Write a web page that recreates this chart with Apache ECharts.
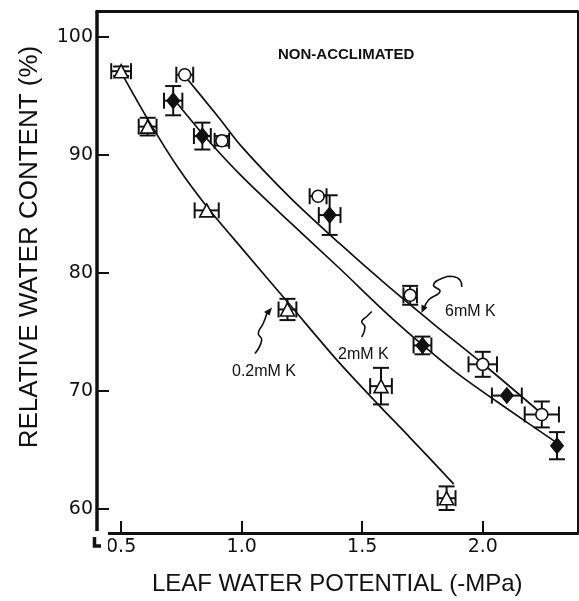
<!DOCTYPE html>
<html>
<head>
<meta charset="utf-8">
<script src="https://cdn.jsdelivr.net/npm/echarts@6/dist/echarts.min.js"></script>
<style>
  html, body { margin: 0; background: #fff; }
  #main { width: 579px; height: 601px; }
</style>
</head>
<body>
<div id="main"></div>
<script>
// tick labels
const xTicks = [0.5, 1.0, 1.5, 2.0];
const yTicks = [60, 70, 80, 90, 100];

// 0.2mM K (open triangles)
const lowX = [0.50, 0.61, 0.855, 1.19, 1.578, 1.85];
const lowY = [97.1, 92.4, 85.3, 76.9, 70.4, 60.9];
const lowDx = [0.041, 0.037, 0.05, 0.037, 0.045, 0.037];
const lowDy = [0.4, 0.75, 0, 0.9, 1.55, 1.0];

// 2mM K (filled diamonds)
const midX = [0.716, 0.837, 1.365, 1.75, 2.10, 2.308];
const midY = [94.6, 91.6, 84.9, 73.85, 69.6, 65.35];
const midDx = [0.038, 0.035, 0.045, 0.037, 0.062, 0];
const midDy = [1.24, 1.14, 1.68, 0.75, 0, 1.15];

// 6mM K (open circles)
const highX = [0.764, 0.918, 1.317, 1.699, 2.0, 2.245];
const highY = [96.8, 91.2, 86.5, 78.1, 72.25, 68.0];
const highDx = [0.035, 0.03, 0.035, 0.028, 0.059, 0.071];
const highDy = [0, 0.4, 0, 0.8, 1.06, 1.1];

// fitted curves
const lowFitX = [0.5, 0.62, 0.74, 0.86, 1.0, 1.2, 1.4, 1.55, 1.7, 1.88];
const lowFitY = [97.0, 92.7, 88.8, 85.5, 82.1, 77.3, 72.5, 69.2, 66.0, 62.1];
const midFitX = [0.72, 0.85, 1.0, 1.2, 1.4, 1.6, 1.75, 1.9, 2.1, 2.3];
const midFitY = [94.7, 91.5, 88.2, 84.3, 80.5, 76.6, 73.9, 71.4, 68.5, 65.7];
const highFitX = [0.76, 0.9, 1.0, 1.2, 1.4, 1.6, 1.8, 2.0, 2.26];
const highFitY = [96.8, 93.3, 90.7, 86.4, 82.6, 79.0, 75.6, 72.3, 67.8];

const ink = '#111';
const font = 'Liberation Sans';

function zip(a, b) { return a.map((v, i) => [v, b[i]]); }
function errData(x, y, dx, dy) { return x.map((v, i) => [v, y[i], dx[i], dy[i]]); }

function errRender(params, api) {
  const x = api.value(0), y = api.value(1), dx = api.value(2), dy = api.value(3);
  const c = api.coord([x, y]);
  const cap = 8;
  const st = { stroke: ink, lineWidth: 2 };
  const kids = [];
  if (dx > 0) {
    const l = api.coord([x - dx, y]), r = api.coord([x + dx, y]);
    kids.push({ type: 'line', shape: { x1: l[0], y1: c[1], x2: r[0], y2: c[1] }, style: st });
    kids.push({ type: 'line', shape: { x1: l[0], y1: c[1] - cap, x2: l[0], y2: c[1] + cap }, style: st });
    kids.push({ type: 'line', shape: { x1: r[0], y1: c[1] - cap, x2: r[0], y2: c[1] + cap }, style: st });
  }
  if (dy > 0) {
    const t = api.coord([x, y + dy]), b = api.coord([x, y - dy]);
    kids.push({ type: 'line', shape: { x1: c[0], y1: t[1], x2: c[0], y2: b[1] }, style: st });
    kids.push({ type: 'line', shape: { x1: c[0] - cap, y1: t[1], x2: c[0] + cap, y2: t[1] }, style: st });
    kids.push({ type: 'line', shape: { x1: c[0] - cap, y1: b[1], x2: c[0] + cap, y2: b[1] }, style: st });
  }
  return { type: 'group', children: kids };
}

function fitLine(x, y) {
  return {
    type: 'line', data: zip(x, y), smooth: 0.3, showSymbol: false, z: 2,
    lineStyle: { color: ink, width: 1.7 }, silent: true
  };
}
function errSeries(data) {
  return { type: 'custom', data: data, renderItem: errRender, encode: { x: 0, y: 1 }, z: 3, silent: true };
}

const chart = echarts.init(document.getElementById('main'));

const option = {
  animation: false,
  backgroundColor: '#fff',
  grid: { left: 97, right: 1.5, top: 11.5, bottom: 53.5 },
  xAxis: [
    {
      type: 'value', min: 0.4, max: 2.393, position: 'bottom',
      axisLine: { onZero: false, lineStyle: { color: ink, width: 3 } },
      axisTick: { inside: true, length: 12, customValues: xTicks, lineStyle: { color: ink, width: 2 } },
      axisLabel: { customValues: xTicks, formatter: v => v.toFixed(1), fontSize: 19, color: ink, fontFamily: 'DejaVu Sans', margin: 5 },
      splitLine: { show: false },
      name: 'LEAF WATER POTENTIAL (-MPa)', nameLocation: 'middle', nameGap: 39,
      nameTextStyle: { fontSize: 24, color: ink, fontFamily: font }
    },
    {
      type: 'value', min: 0.4, max: 2.393, position: 'top',
      axisLine: { onZero: false, lineStyle: { color: ink, width: 3 } },
      axisTick: { show: false }, axisLabel: { show: false }, splitLine: { show: false }
    }
  ],
  yAxis: [
    {
      type: 'value', min: 57.95, max: 102.16, position: 'left',
      axisLine: { onZero: false, lineStyle: { color: ink, width: 3.5 } },
      axisTick: { inside: true, length: 12, customValues: yTicks, lineStyle: { color: ink, width: 2 } },
      axisLabel: { customValues: yTicks, fontSize: 19, color: ink, fontFamily: 'DejaVu Sans', margin: 4 },
      splitLine: { show: false }
    },
    {
      type: 'value', min: 57.95, max: 102.16, position: 'right',
      axisLine: { onZero: false, lineStyle: { color: ink, width: 2 } },
      axisTick: { show: false }, axisLabel: { show: false }, splitLine: { show: false }
    }
  ],
  series: [
    fitLine(lowFitX, lowFitY),
    fitLine(midFitX, midFitY),
    fitLine(highFitX, highFitY),
    errSeries(errData(lowX, lowY, lowDx, lowDy)),
    errSeries(errData(midX, midY, midDx, midDy)),
    errSeries(errData(highX, highY, highDx, highDy)),
    {
      name: '0.2mM K', type: 'scatter', data: zip(lowX, lowY), symbol: 'triangle', symbolSize: [14, 13], z: 4,
      itemStyle: { color: '#fff', borderColor: ink, borderWidth: 1.6, opacity: 1 }
    },
    {
      name: '2mM K', type: 'scatter', data: zip(midX, midY), symbol: 'diamond', symbolSize: [13, 16], z: 4,
      itemStyle: { color: ink, borderColor: ink, borderWidth: 1, opacity: 1 }
    },
    {
      name: '6mM K', type: 'scatter', data: zip(highX, highY), symbol: 'circle', symbolSize: 12, z: 4,
      itemStyle: { color: '#fff', borderColor: ink, borderWidth: 1.6, opacity: 1 }
    }
  ],
  graphic: [
    // axis break at the lower left corner
    { type: 'rect', shape: { x: 88, y: 531, width: 20, height: 20 }, style: { fill: '#fff' }, z: 100 },
    { type: 'polyline', shape: { points: [[94.5, 537], [94.5, 546], [101, 546]] }, style: { stroke: ink, lineWidth: 3.5, fill: null }, z: 101 },
    {
      type: 'text', z: 100, x: 30, y: 247, rotation: Math.PI / 2,
      style: { text: 'RELATIVE WATER CONTENT (%)', x: 0, y: 0, align: 'center', verticalAlign: 'middle', font: '26px "Liberation Sans"', fill: ink }
    },
    { type: 'text', z: 100, style: { text: 'NON-ACCLIMATED', x: 278, y: 55, verticalAlign: 'middle', font: 'bold 15px "Liberation Sans"', fill: ink } },
    { type: 'text', z: 100, style: { text: '6mM K', x: 445, y: 312, verticalAlign: 'middle', font: '16px "Liberation Sans"', fill: ink } },
    { type: 'text', z: 100, style: { text: '2mM K', x: 338, y: 355, verticalAlign: 'middle', font: '16px "Liberation Sans"', fill: ink } },
    { type: 'text', z: 100, style: { text: '0.2mM K', x: 232, y: 372, verticalAlign: 'middle', font: '16px "Liberation Sans"', fill: ink } },
    // hand drawn pointers
    { type: 'polyline', z: 100, shape: { smooth: 0.5, points: [[461.7, 287], [460, 280], [453, 276.5], [441.7, 278.5], [433.5, 285], [440, 291.5], [428.5, 300], [424, 309]] }, style: { stroke: ink, lineWidth: 1.6, fill: null } },
    { type: 'polygon', z: 100, shape: { points: [[421.5, 313], [421.5, 304.5], [427.5, 307.5]] }, style: { fill: ink } },
    { type: 'polyline', z: 100, shape: { smooth: 0.5, points: [[361.7, 337], [365, 327], [361.7, 321.5], [366.7, 316.5], [371.7, 311.5]] }, style: { stroke: ink, lineWidth: 1.6, fill: null } },
    { type: 'polyline', z: 100, shape: { smooth: 0.5, points: [[255, 353.5], [261.7, 340], [258.3, 333.3], [263.3, 323.3], [267, 313]] }, style: { stroke: ink, lineWidth: 1.6, fill: null } },
    { type: 'polygon', z: 100, shape: { points: [[272, 307.5], [264, 312], [269.5, 315.5]] }, style: { fill: ink } }
  ]
};

chart.setOption(option);
</script>
</body>
</html>
